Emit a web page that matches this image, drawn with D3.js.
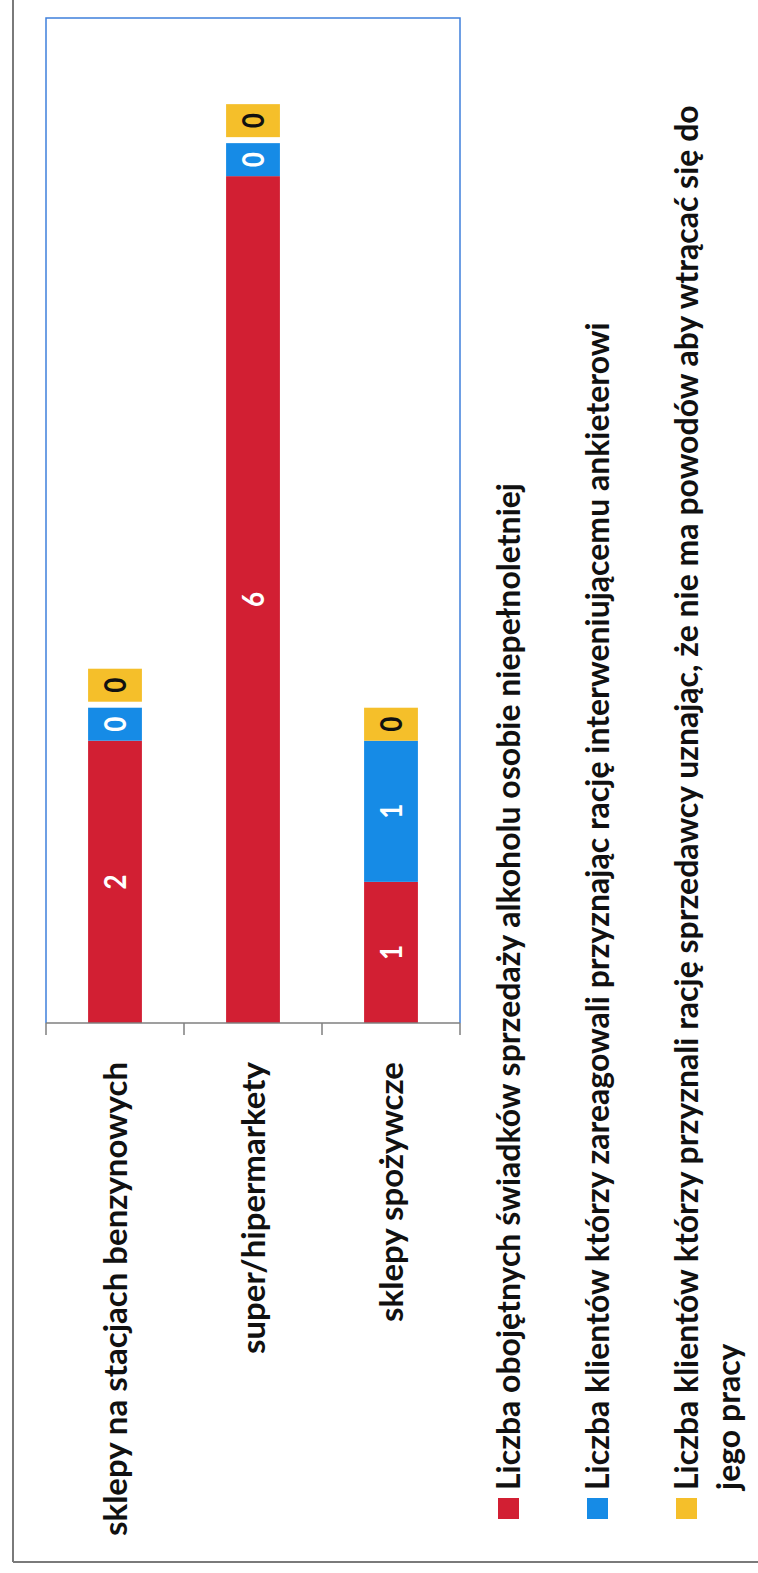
<!DOCTYPE html>
<html>
<head>
<meta charset="utf-8">
<script src="https://cdn.jsdelivr.net/npm/d3@7"></script>
<style>
  body { margin: 0; background: #fff; }
  svg { display: block; }
</style>
</head>
<body>
<div id="chart"></div>
<script>
// data
var categories = ["sklepy na stacjach benzynowych", "super/hipermarkety", "sklepy spożywcze"];
var seriesNames = [
  "Liczba obojętnych świadków sprzedaży alkoholu osobie niepełnoletniej",
  "Liczba klientów którzy zareagowali przyznając rację interweniującemu ankieterowi",
  "Liczba klientów którzy przyznali rację sprzedawcy uznając, że nie ma powodów aby wtrącać się do\njego pracy"
];
var obojetni = [2, 6, 1];
var zareagowali = [0, 0, 1];
var przyznaliSprzedawcy = [0, 0, 0];
var seriesColors = ["#d21f33", "#168be6", "#f5bf2a"];
var labelColors = ["#ffffff", "#ffffff", "#111111"];

// page is a rotated (90° ccw) scan of the chart, so text runs bottom -> top
var W = 758, H = 1573;
var plot = {left: 46, right: 460, top: 18, bottom: 1023};
var font = "Lato, 'Open Sans', sans-serif";

var svg = d3.select("#chart")
  .append("svg")
    .attr("width", W)
    .attr("height", H);

// outer frame of the scan (left and bottom edges only visible)
svg.append("line")
    .attr("x1", 13).attr("x2", 13).attr("y1", 0).attr("y2", 1562)
    .attr("stroke", "#7a7a7a").attr("stroke-width", 2);
svg.append("line")
    .attr("x1", 13).attr("x2", W).attr("y1", 1562).attr("y2", 1562)
    .attr("stroke", "#7a7a7a").attr("stroke-width", 2);

// plot area border
svg.append("path")
    .attr("d", "M" + plot.left + "," + plot.bottom + "V" + plot.top + "H" + plot.right + "V" + plot.bottom)
    .attr("fill", "none")
    .attr("stroke", "#3f80dc")
    .attr("stroke-width", 1.5);

// scales
var x = d3.scaleBand()
  .domain(categories)
  .range([plot.left, plot.right])
  .paddingInner(0.61)
  .paddingOuter(0.305);

var y = d3.scaleLinear()
  .domain([0, 7])
  .range([plot.bottom, 35]);

var rows = categories.map(function (c, i) {
  return {cat: c, s0: obojetni[i], s1: zareagowali[i], s2: przyznaliSprzedawcy[i]};
});
var keys = ["s0", "s1", "s2"];
var stacked = d3.stack().keys(keys)(rows);

// bars
var layers = svg.append("g")
  .selectAll("g")
  .data(stacked)
  .enter()
  .append("g")
    .attr("fill", function (d, i) { return seriesColors[i]; });

layers.selectAll("rect")
  .data(function (d) { return d.filter(function (s) { return s[1] > s[0]; }); })
  .enter()
  .append("rect")
    .attr("x", function (d) { return x(d.data.cat); })
    .attr("y", function (d) { return y(d[1]); })
    .attr("width", x.bandwidth())
    .attr("height", function (d) { return y(d[0]) - y(d[1]); });

function rotLabel(sel, cx, cy, k) {
  return sel.attr("transform", "translate(" + cx + "," + cy + ") rotate(-90) scale(1," + (k || 1) + ")");
}

// labels on non-zero segments
stacked.forEach(function (layer, li) {
  layer.forEach(function (d) {
    var v = d[1] - d[0];
    if (v <= 0) return;
    svg.append("text")
        .call(rotLabel, x(d.data.cat) + x.bandwidth() / 2, (y(d[0]) + y(d[1])) / 2, 1.2)
        .attr("text-anchor", "middle")
        .attr("dy", "0.36em")
        .style("font-family", font)
        .style("font-weight", "bold")
        .style("font-size", "26px")
        .style("fill", labelColors[li])
        .text(v);
  });
});

// zero values: Excel shows their label boxes stacked above the bar
var boxH = 33, boxGap = 6;
rows.forEach(function (r, ci) {
  var total = r.s0 + r.s1 + r.s2;
  var cursor = y(total);
  keys.forEach(function (k, li) {
    if (r[k] !== 0) return;
    svg.append("rect")
        .attr("x", x(r.cat))
        .attr("y", cursor - boxH)
        .attr("width", x.bandwidth())
        .attr("height", boxH)
        .attr("fill", seriesColors[li]);
    svg.append("text")
        .call(rotLabel, x(r.cat) + x.bandwidth() / 2, cursor - boxH / 2, 1.2)
        .attr("text-anchor", "middle")
        .attr("dy", "0.36em")
        .style("font-family", font)
        .style("font-weight", "bold")
        .style("font-size", "26px")
        .style("fill", labelColors[li])
        .text(r[k]);
    cursor -= boxH + boxGap;
  });
});

// category axis
var bounds = categories.map(function (c) {
  return x(c) - (x.step() - x.bandwidth()) / 2;
});
bounds.push(plot.right);

svg.append("line")
    .attr("x1", plot.left).attr("x2", plot.right)
    .attr("y1", plot.bottom).attr("y2", plot.bottom)
    .attr("stroke", "#7f7f7f").attr("stroke-width", 1.5);

svg.append("g")
  .selectAll("line")
  .data(bounds)
  .enter()
  .append("line")
    .attr("x1", function (d) { return d; })
    .attr("x2", function (d) { return d; })
    .attr("y1", plot.bottom)
    .attr("y2", plot.bottom + 12)
    .attr("stroke", "#7f7f7f")
    .attr("stroke-width", 1.5);

svg.append("g")
  .selectAll("text")
  .data(categories)
  .enter()
  .append("text")
    .each(function (d) {
      d3.select(this).call(rotLabel, x(d) + x.bandwidth() / 2 + 12, 1062);
    })
    .attr("text-anchor", "end")
    .style("font-family", font)
    .style("font-weight", "bold")
    .style("font-size", "33px")
    .style("fill", "#111")
    .text(function (d) { return d; });

// legend
var legendX0 = 520, legendStep = 89, lineStep = 42, legendY = 1490;
var legend = svg.append("g");
var lineX = legendX0;
seriesNames.forEach(function (name, i) {
  var lines = name.split("\n");
  legend.append("rect")
      .attr("x", lineX - 22)
      .attr("y", 1498)
      .attr("width", 21)
      .attr("height", 21)
      .attr("fill", seriesColors[i]);
  lines.forEach(function (t, j) {
    legend.append("text")
        .call(rotLabel, lineX + j * lineStep, legendY)
        .attr("text-anchor", "start")
        .style("font-family", font)
        .style("font-weight", "bold")
        .style("font-size", "32px")
        .style("fill", "#111")
        .text(t);
  });
  lineX += legendStep;
});
</script>
</body>
</html>
